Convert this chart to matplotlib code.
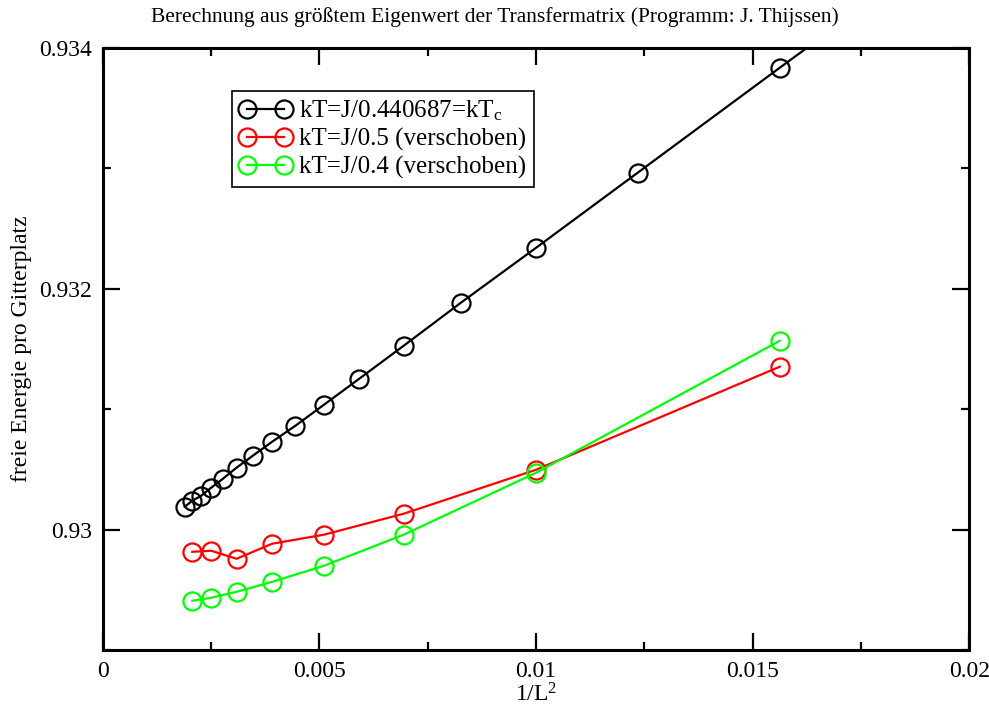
import numpy as np
import matplotlib
matplotlib.use("Agg")
import matplotlib.pyplot as plt
from matplotlib.ticker import MultipleLocator, FormatStrFormatter

plt.rcParams['font.family'] = ['Liberation Serif', 'DejaVu Serif']
plt.rcParams['mathtext.fontset'] = 'custom'
plt.rcParams['mathtext.rm'] = 'Liberation Serif'
plt.rcParams['mathtext.it'] = 'Liberation Serif'

# x = 1/L^2 fuer L = 23 ... 8 (und L = 7 ausserhalb des Bildes)
x_tc = [0.00189, 0.002066, 0.002268, 0.0025, 0.00277, 0.003086, 0.00346,
        0.003906, 0.004444, 0.005102, 0.005917, 0.006944, 0.008264, 0.01,
        0.012346, 0.015625, 0.020408]
y_tc = [0.930191, 0.930241, 0.930282, 0.930349, 0.930423, 0.930515, 0.930614,
        0.930730, 0.930863, 0.931037, 0.931253, 0.931527, 0.931884, 0.932340,
        0.932963, 0.933834, 0.935090]

x_even = [0.002066, 0.0025, 0.003086, 0.003906, 0.005102, 0.006944, 0.01, 0.015625]
y_05 = [0.929817, 0.929826, 0.929759, 0.929884, 0.929959, 0.930133, 0.930498, 0.931353]
y_04 = [0.929411, 0.929436, 0.929485, 0.929568, 0.929701, 0.929959, 0.930473, 0.931568]

labels = ['kT=J/0.440687=kT$_\\mathrm{c}$', 'kT=J/0.5 (verschoben)', 'kT=J/0.4 (verschoben)']

fig = plt.figure(figsize=(9.89, 7.13), dpi=100)
ax = fig.add_axes([0.104, 0.088, 0.876, 0.845])

style = dict(marker='o', ms=13, mfc='none', mew=1.6, lw=1.6)
ax.plot(x_tc, y_tc, color='black', label=labels[0], **style)
ax.plot(x_even, y_05, color='#ff0000', label=labels[1], **style)
ax.plot(x_even, y_04, color='#00ff00', label=labels[2], **style)

ax.set_xlim(0, 0.02)
ax.set_ylim(0.929, 0.934)
ax.xaxis.set_major_locator(MultipleLocator(0.005))
ax.xaxis.set_minor_locator(MultipleLocator(0.0025))
ax.yaxis.set_major_locator(MultipleLocator(0.002))
ax.yaxis.set_minor_locator(MultipleLocator(0.001))
ax.xaxis.set_major_formatter(FormatStrFormatter('%g'))
ax.yaxis.set_major_formatter(FormatStrFormatter('%g'))
ax.tick_params(which='both', direction='in', top=True, right=True, width=1.6, labelsize=17)
ax.tick_params(which='major', length=12, pad=8)
ax.tick_params(which='minor', length=6)
for s in ax.spines.values():
    s.set_linewidth(2.2)

fig.text(0.5, 0.976, 'Berechnung aus größtem Eigenwert der Transfermatrix (Programm: J. Thijssen)',
         fontsize=15.5, ha='center', va='center')
ax.set_xlabel('1/L$^2$', fontsize=17, labelpad=1)
ax.set_ylabel('freie Energie pro Gitterplatz', fontsize=17, labelpad=5)

leg = ax.legend(loc='upper left', bbox_to_anchor=(0.149, 0.928), numpoints=2,
                fontsize=18, frameon=True, fancybox=False, framealpha=1,
                edgecolor='black', handlelength=2.1, handletextpad=0.3,
                borderpad=0.3, labelspacing=0.2, borderaxespad=0)
leg.get_frame().set_linewidth(1.2)

plt.savefig('out.png', dpi=100)
